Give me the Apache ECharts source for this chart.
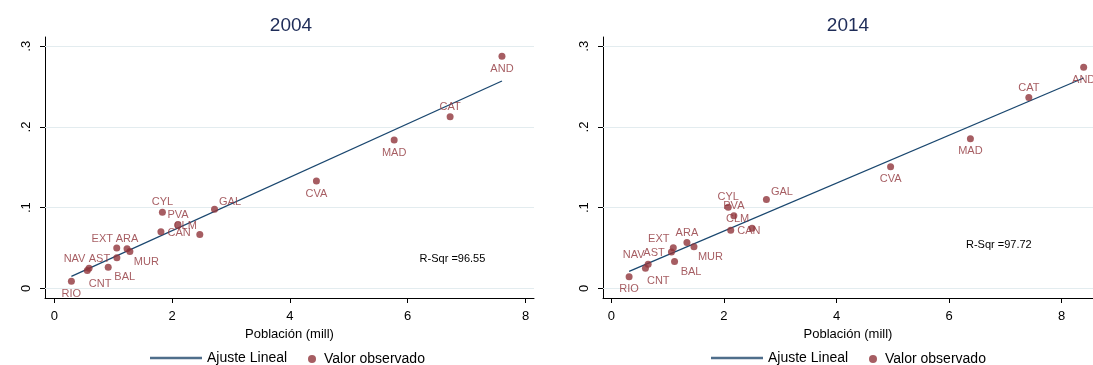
<!DOCTYPE html>
<html><head><meta charset="utf-8">
<script src="https://cdn.jsdelivr.net/npm/echarts@6/dist/echarts.min.js"></script>
<style>html,body{margin:0;padding:0;background:#fff}#c{width:1093px;height:365px}</style>
</head><body><div id="c"></div>
<script>
// ---- data ----
const regions = ['AND','CAT','MAD','CVA','GAL','CYL','PVA','CAN','CLM','EXT','ARA','MUR','AST','NAV','CNT','BAL','RIO'];
const pob2004 = [7.60, 6.72, 5.77, 4.45, 2.72, 1.835, 2.10, 1.81, 2.47, 1.06, 1.235, 1.283, 1.062, 0.59, 0.56, 0.915, 0.29];
const val2004 = [0.2876, 0.2128, 0.1839, 0.1331, 0.0980, 0.0944, 0.0784, 0.0703, 0.0667, 0.0502, 0.0492, 0.0457, 0.0381, 0.0250, 0.0222, 0.0262, 0.0089];
const pob2014 = [8.39, 7.416, 6.378, 4.96, 2.754, 2.076, 2.176, 2.12, 2.499, 1.10, 1.342, 1.467, 1.067, 0.653, 0.605, 1.122, 0.315];
const val2014 = [0.2740, 0.2364, 0.1855, 0.1508, 0.1103, 0.1004, 0.0901, 0.0719, 0.0744, 0.0503, 0.0568, 0.0516, 0.0452, 0.0298, 0.0250, 0.0332, 0.0145];
const fitX2004 = [0.29, 7.60];
const fitY2004 = [0.0149, 0.2570];
const fitX2014 = [0.315, 8.39];
const fitY2014 = [0.0211, 0.2607];
const rsq2004 = 'R-Sqr =96.55';
const rsq2014 = 'R-Sqr =97.72';
const years = ['2004', '2014'];
const xTicks = [0, 2, 4, 6, 8];
const xTickLabels = ['0', '2', '4', '6', '8'];
const yTicks = [0, 0.1, 0.2, 0.3];
const yTickLabels = ['0', '.1', '.2', '.3'];
const xTitle = 'Población (mill)';
const lineName = 'Ajuste Lineal';
const dotName = 'Valor observado';

// ---- styling ----
const FONT = '"Liberation Sans", Arial, Helvetica, sans-serif';
const MAROON = '#90353b', NAVY = '#1a476f', GRID = '#e3ecef', TITLE = '#1e2c58';
// label clock position per region (Stata style)
const labelClock = {AND:6, CAT:12, MAD:6, CVA:6, GAL:1, CYL:12, PVA:12, CAN:3, CLM:11, EXT:11, ARA:12, MUR:4, AST:9, NAV:11, CNT:5, BAL:4, RIO:6};
const clockStyle = {
  12: {offset:[0,-10], align:'center'},
  6:  {offset:[0,12.5], align:'center'},
  1:  {offset:[15.5,-7], align:'center'},
  11: {offset:[-14.5,-9], align:'center'},
  4:  {offset:[16.5,10], align:'center'},
  5:  {offset:[12.8,13], align:'center'},
  3:  {offset:[6.6,1], align:'left'},
  9:  {offset:[-6.7,1], align:'right'}
};

const panels = [
  {x:pob2004, y:val2004, fx:fitX2004, fy:fitY2004, rsq:rsq2004,
   grid:{left:45, right:559, top:37, bottom:67}, xMin:-0.158, xMax:8.144,
   titleX:291, rsqPos:[419.6, 259.3], legLine:150, legDot:308},
  {x:pob2014, y:val2014, fx:fitX2014, fy:fitY2014, rsq:rsq2014,
   grid:{left:603, right:0, top:37, bottom:67}, xMin:-0.149, xMax:8.556,
   titleX:848, rsqPos:[966, 245], legLine:711, legDot:869}
];
const yMin = -0.0119, yMax = 0.3115;

const option = {
  animation:false,
  backgroundColor:'#fff',
  textStyle:{fontFamily:FONT},
  title:[], grid:[], xAxis:[], yAxis:[], series:[], legend:[], graphic:[]
};

panels.forEach((p, i) => {
  option.title.push({text:years[i], left:p.titleX, top:16, textAlign:'center', padding:0,
    textStyle:{fontFamily:FONT, fontSize:19, fontWeight:'normal', color:TITLE}});
  option.grid.push(Object.assign({containLabel:false}, p.grid));
  option.xAxis.push({type:'value', gridIndex:i, min:p.xMin, max:p.xMax,
    name:xTitle, nameLocation:'middle', nameGap:20,
    nameTextStyle:{fontFamily:FONT, fontSize:13, color:'#000'},
    axisLine:{onZero:false, lineStyle:{color:'#000', width:1}},
    axisTick:{show:true, length:5, customValues:xTicks, lineStyle:{color:'#000'}},
    axisLabel:{customValues:xTicks, margin:12, fontFamily:FONT, fontSize:13, color:'#000',
      formatter:v => xTickLabels[xTicks.indexOf(Math.round(v))] ?? ''},
    splitLine:{show:false}});
  option.yAxis.push({type:'value', gridIndex:i, min:yMin, max:yMax,
    axisLine:{onZero:false, lineStyle:{color:'#000', width:1}},
    axisTick:{show:true, length:5, customValues:yTicks, lineStyle:{color:'#000'}},
    axisLabel:{customValues:yTicks, rotate:90, margin:12.5, fontFamily:FONT, fontSize:13, color:'#000',
      formatter:v => yTickLabels[Math.round(v*10)] ?? ''},
    splitLine:{show:false}});
  // gridlines
  option.series.push({type:'line', xAxisIndex:i, yAxisIndex:i, data:[], silent:true, z:1,
    markLine:{silent:true, z:1, symbol:'none', label:{show:false}, animation:false,
      lineStyle:{color:GRID, width:1, type:'solid'}, emphasis:{disabled:true},
      data:yTicks.map(v => ({yAxis:v}))}});
  // fitted line
  option.series.push({type:'line', name:lineName, xAxisIndex:i, yAxisIndex:i, z:2,
    data:p.fx.map((v,k) => [v, p.fy[k]]), symbol:'none', silent:true,
    lineStyle:{color:NAVY, width:1.3}, itemStyle:{color:NAVY}});
  // observed values
  option.series.push({type:'scatter', name:dotName, xAxisIndex:i, yAxisIndex:i, z:3,
    symbol:'circle', symbolSize:7, itemStyle:{color:MAROON}, silent:true,
    data:regions.map((r,k) => {
      const cs = clockStyle[labelClock[r]];
      return {name:r, value:[p.x[k], p.y[k]],
        label:{show:true, position:'inside', formatter:r, offset:cs.offset, align:cs.align,
          verticalAlign:'middle', color:MAROON, fontFamily:FONT, fontSize:11}};
    })});
  option.legend.push({data:[{name:lineName, icon:'path://M0 0H52V2.5H0Z', itemStyle:{color:'#4f6e8b'}}],
    left:p.legLine, top:351, itemWidth:52, itemHeight:14,
    selectedMode:false, padding:0,
    textStyle:{fontFamily:FONT, fontSize:14, color:'#000'}});
  option.legend.push({data:[{name:dotName, icon:'circle'}], left:p.legDot, top:352, itemWidth:14, itemHeight:8,
    selectedMode:false, padding:0, textStyle:{fontFamily:FONT, fontSize:14, color:'#000'}});
  option.graphic.push({type:'text', x:p.rsqPos[0], y:p.rsqPos[1], silent:true,
    style:{text:p.rsq, fontFamily:FONT, fontSize:11, fill:'#000', verticalAlign:'middle'}});
});

const chart = echarts.init(document.getElementById('c'), null, {renderer:'canvas'});
chart.setOption(option);
</script>
</body></html>
